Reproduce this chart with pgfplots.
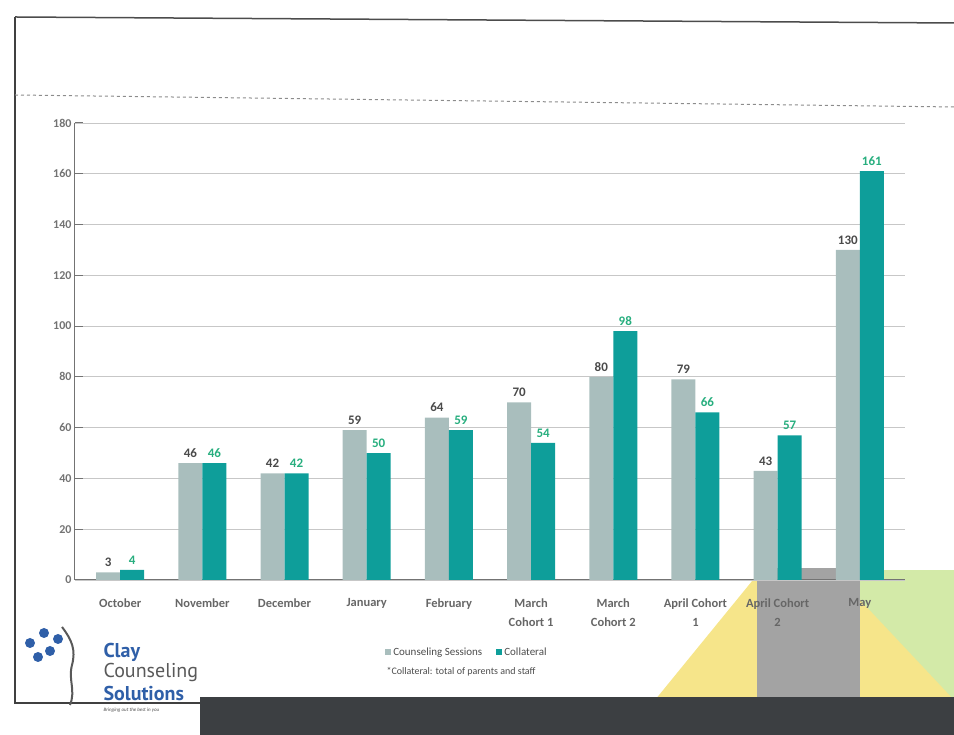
\documentclass[border=0pt]{standalone}
\usepackage{pgfplots}
\pgfplotsset{compat=1.18}
\usepackage{fontspec}
\setmainfont{Carlito}
\newfontfamily\logofont{PT Sans}
\definecolor{cs}{HTML}{A9BEBD}
\definecolor{col}{HTML}{0E9E9A}
\definecolor{lblgray}{HTML}{4A4A4A}
\definecolor{lblgreen}{HTML}{27AE7E}
\definecolor{logoblue}{HTML}{2F5FA8}
\definecolor{band}{HTML}{3C3F42}
\definecolor{ylw}{HTML}{F6E58A}
\definecolor{grn}{HTML}{D3EAA8}
\definecolor{gry}{HTML}{A3A3A3}
\begin{document}
\begin{tikzpicture}[x=1pt,y=1pt]
\path[use as bounding box] (0,0) rectangle (954,735);
% scanned background pieces
\fill[ylw] (655,35) -- (757,160) -- (757,35) -- cycle;
\fill[grn] (860,35) rectangle (954,165);
\fill[ylw] (860,35) -- (860,135) -- (954,35) -- cycle;
\fill[gry] (757,0) rectangle (860,167);
\fill[band] (200,0) rectangle (954,38);
% frame
\draw[line width=2.5pt, black!75] (15,718) -- (15,32) -- (200,32);
\draw[line width=1.5pt, black!70] (15,718) -- (954,712);
\draw[black!45, dashed, line width=1pt] (15,640) -- (954,628);
% logo
\foreach \p in {(30,92),(44,102),(50,84),(38,78),(58,96)}
  \fill[logoblue] \p circle (5);
\draw[black!65, line width=2pt] (62,108) .. controls (72,95) and (76,85) .. (72,70) .. controls (68,55) and (76,45) .. (70,30);
\node[anchor=west, text=logoblue, font=\logofont\bfseries\fontsize{20}{22}\selectfont] at (100,83) {Clay};
\node[anchor=west, text=black!65, font=\logofont\fontsize{20}{22}\selectfont] at (100,62) {Counseling};
\node[anchor=west, text=logoblue, font=\logofont\bfseries\fontsize{20}{22}\selectfont] at (100,41) {Solutions};
\node[anchor=west, text=black!70, font=\itshape\fontsize{5}{6}\selectfont] at (100,25) {Bringing out the best in you};
\node[anchor=west, text=black!70, font=\fontsize{10}{12}\selectfont] at (383,63) {*Collateral: total of parents and staff};
\begin{axis}[
  /pgf/number format/assume math mode=true,
  at={(75pt,155pt)}, anchor=south west,
  scale only axis, width=830pt, height=457pt,
  ymin=0, ymax=180, ytick={0,20,...,180},
  xmin=-0.55, xmax=9.55,
  ybar=0pt, bar width=24pt,
  axis x line*=bottom, axis y line*=left,
  axis line style={black!55, line width=1pt},
  ymajorgrids, grid style={black!22, line width=0.8pt},
  major tick length=8pt,
  ytick style={black!55, line width=1pt},
  xtick=data, xtick style={draw=none},
  xticklabels={October,November,December,January,February,{March\\Cohort 1},{March\\Cohort 2},{April Cohort\\1},{April Cohort\\2},May},
  xticklabel style={align=center, text=black!60, font=\bfseries\fontsize{12.5}{19}\selectfont, yshift=-7pt},
  yticklabel style={text=black!55, font=\bfseries\fontsize{12}{14}\selectfont},
  legend style={at={(0.37,-0.158)}, anchor=west, draw=none, fill=none,
    legend columns=2, font=\fontsize{11}{13}\selectfont, text=black!70,
    /tikz/every even column/.append style={column sep=12pt}},
  legend image code/.code={\fill[#1] (0,-3pt) rectangle (6pt,3pt);},
  nodes near coords,
  every node near coord/.append style={font=\bfseries\fontsize{13}{15}\selectfont, yshift=2pt},
]
\addplot[fill=cs, draw=none, every node near coord/.append style={text=lblgray}]
  coordinates {(0,3) (1,46) (2,42) (3,59) (4,64) (5,70) (6,80) (7,79) (8,43) (9,130)};
\addplot[fill=col, draw=none, every node near coord/.append style={text=lblgreen}]
  coordinates {(0,4) (1,46) (2,42) (3,50) (4,59) (5,54) (6,98) (7,66) (8,57) (9,161)};
\legend{Counseling Sessions, Collateral}
\end{axis}
\end{tikzpicture}
\end{document}
